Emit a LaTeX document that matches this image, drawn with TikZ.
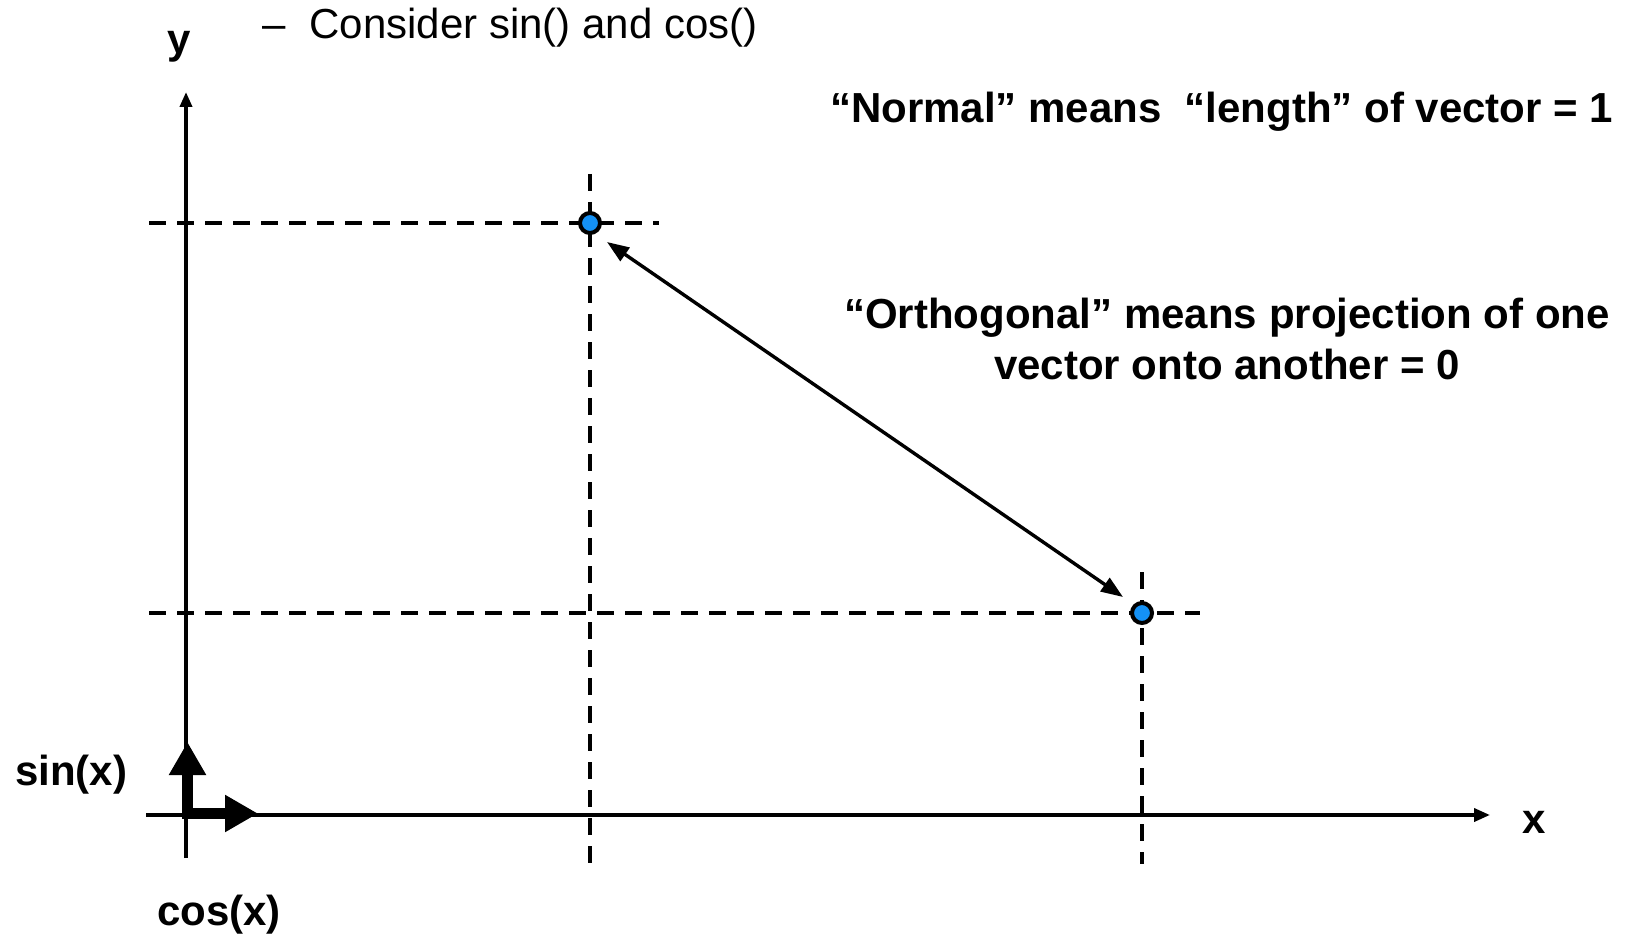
\documentclass[tikz,border=0pt]{standalone}
\usepackage{fontspec}
\setmainfont{Liberation Sans}
\usetikzlibrary{arrows.meta}
\definecolor{ptblue}{RGB}{20,145,245}
\begin{document}
\begin{tikzpicture}[x=1pt,y=-1pt,
  axis/.style={line width=3.6pt},
  guide/.style={line width=3.4pt, dash pattern=on 17pt off 11pt},
  ptnode/.style={circle, draw=black, line width=4pt, fill=ptblue, minimum size=20pt, inner sep=0pt},
  lbl/.style={font=\fontsize{42}{51}\selectfont\bfseries, inner sep=0pt, anchor=base west},
  plainlbl/.style={font=\fontsize{42}{51}\selectfont, inner sep=0pt, anchor=base west},
  dbl/.style={line width=3.4pt, {Triangle[length=22pt,width=16pt]}-{Triangle[length=22pt,width=16pt]}},
  basis/.style={line width=11pt, line join=miter, {Triangle[length=33pt,width=35pt]}-{Triangle[length=33pt,width=35pt]}}]
\useasboundingbox (0,0) rectangle (1636,936);

% coordinates
\coordinate (yb) at (186,858);
\coordinate (yt) at (186,92);
\coordinate (xl) at (146,815);
\coordinate (xr) at (1490,815);
\coordinate (ha1) at (149,223);
\coordinate (ha2) at (659,223);
\coordinate (va1) at (590,174);
\coordinate (va2) at (590,864);
\coordinate (hb1) at (149,613);
\coordinate (hb2) at (1200,613);
\coordinate (vb1) at (1142,572);
\coordinate (vb2) at (1142,864);
\coordinate (ta) at (607,242);
\coordinate (tb) at (1123,597);
\coordinate (st) at (187.5,742);
\coordinate (corner) at (187.5,813.5);
\coordinate (ct) at (258,813.5);

% dashed guides
\draw[guide] (ha1) -- (ha2);
\draw[guide] (va1) -- (va2);
\draw[guide] (hb1) -- (hb2);
\draw[guide] (vb1) -- (vb2);

% axes
\draw[axis, -{Triangle[length=15pt,width=12pt]}] (yb) -- (yt);
\draw[axis, -{Triangle[length=16pt,width=13pt]}] (xl) -- (xr);

% basis arrows
\draw[basis] (st) -- (corner) -- (ct);

% double arrow
\draw[dbl] (ta) -- (tb);

% points
\node[ptnode] (A) at (590,223) {};
\node[ptnode] (B) at (1142,613) {};

% labels
\node[lbl] (ylab) at (167,54) {y};
\node[lbl] (xlab) at (1522,833) {x};
\node[lbl] (sinlab) at (15,785) {sin(x)};
\node[lbl] (coslab) at (157,925) {cos(x)};
\node[plainlbl] (consider) at (262,39) {–\hspace{24pt}Consider sin() and cos()};
\node[lbl] (normal) at (830,123) {“Normal” means\ \ “length” of vector = 1};
\node[lbl, align=center, anchor=north] (orth) at (1227,298) {“Orthogonal” means projection of one\\vector onto another = 0};
\end{tikzpicture}
\end{document}
